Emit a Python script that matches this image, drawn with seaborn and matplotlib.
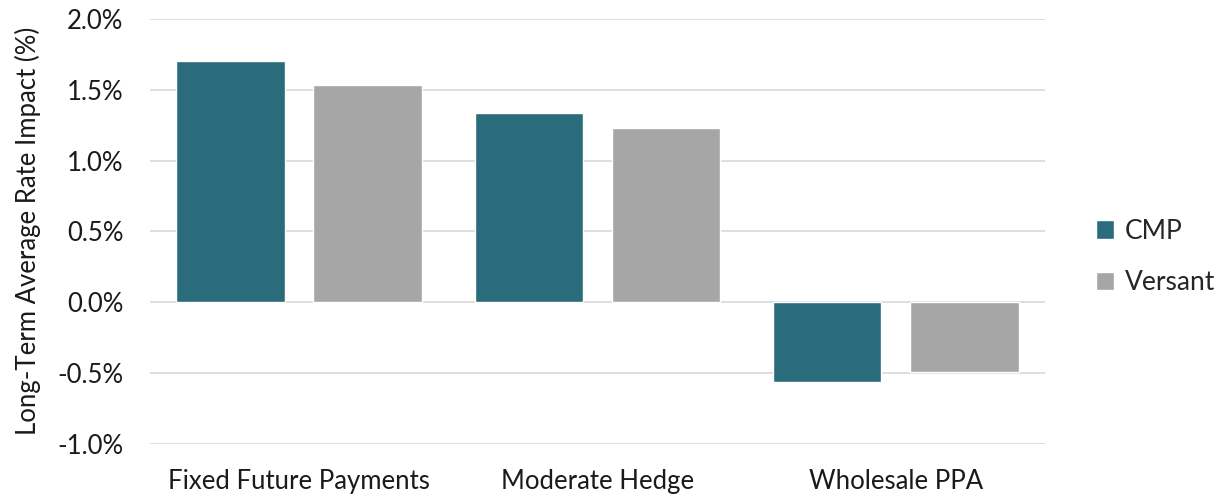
import matplotlib
matplotlib.use("Agg")
import matplotlib.pyplot as plt
import seaborn as sns
import pandas as pd
from matplotlib.ticker import FuncFormatter, MultipleLocator

categories = ["Fixed Future Payments", "Moderate Hedge", "Wholesale PPA"]
cmp_values = [1.70, 1.335, -0.565]
versant_values = [1.535, 1.23, -0.495]
series_names = ["CMP", "Versant"]
colors = {"CMP": "#2A6B7C", "Versant": "#A6A6A6"}

df = pd.DataFrame({
    "Category": categories * 2,
    "Series": [series_names[0]] * 3 + [series_names[1]] * 3,
    "Value": cmp_values + versant_values,
})

sns.set_theme(style="white")
plt.rcParams["font.family"] = ["Lato", "DejaVu Sans"]

fig = plt.figure(figsize=(12.18, 4.97), dpi=100)
ax = fig.add_axes([0.123, 0.107, 0.735, 0.855])

sns.barplot(data=df, x="Category", y="Value", hue="Series", palette=colors,
            width=0.92, gap=0.21, ax=ax, saturation=1, errorbar=None, zorder=3)

ax.set_ylim(-1.0, 2.0)
ax.set_xlim(-0.5, 2.5)
ax.yaxis.set_major_locator(MultipleLocator(0.5))
ax.yaxis.set_major_formatter(FuncFormatter(lambda v, p: f"{v:.1f}%"))
ax.grid(axis="y", color="#D9D9D9", linewidth=1.2, zorder=0)
ax.set_axisbelow(True)
for s in ax.spines.values():
    s.set_visible(False)
ax.tick_params(axis="both", length=0, labelsize=18.5, colors="#1a1a1a")
ax.tick_params(axis="y", pad=19)
ax.tick_params(axis="x", pad=18)
ax.set_xlabel("")
ax.set_ylabel("Long-Term Average Rate Impact (%)", fontsize=18.5, color="#1a1a1a", labelpad=12)

ax.legend(loc="center left", bbox_to_anchor=(1.03, 0.44), frameon=False,
          fontsize=19, handlelength=0.7, handleheight=0.7, handletextpad=0.4,
          labelspacing=1.0)

fig.savefig("out.png", dpi=100)
